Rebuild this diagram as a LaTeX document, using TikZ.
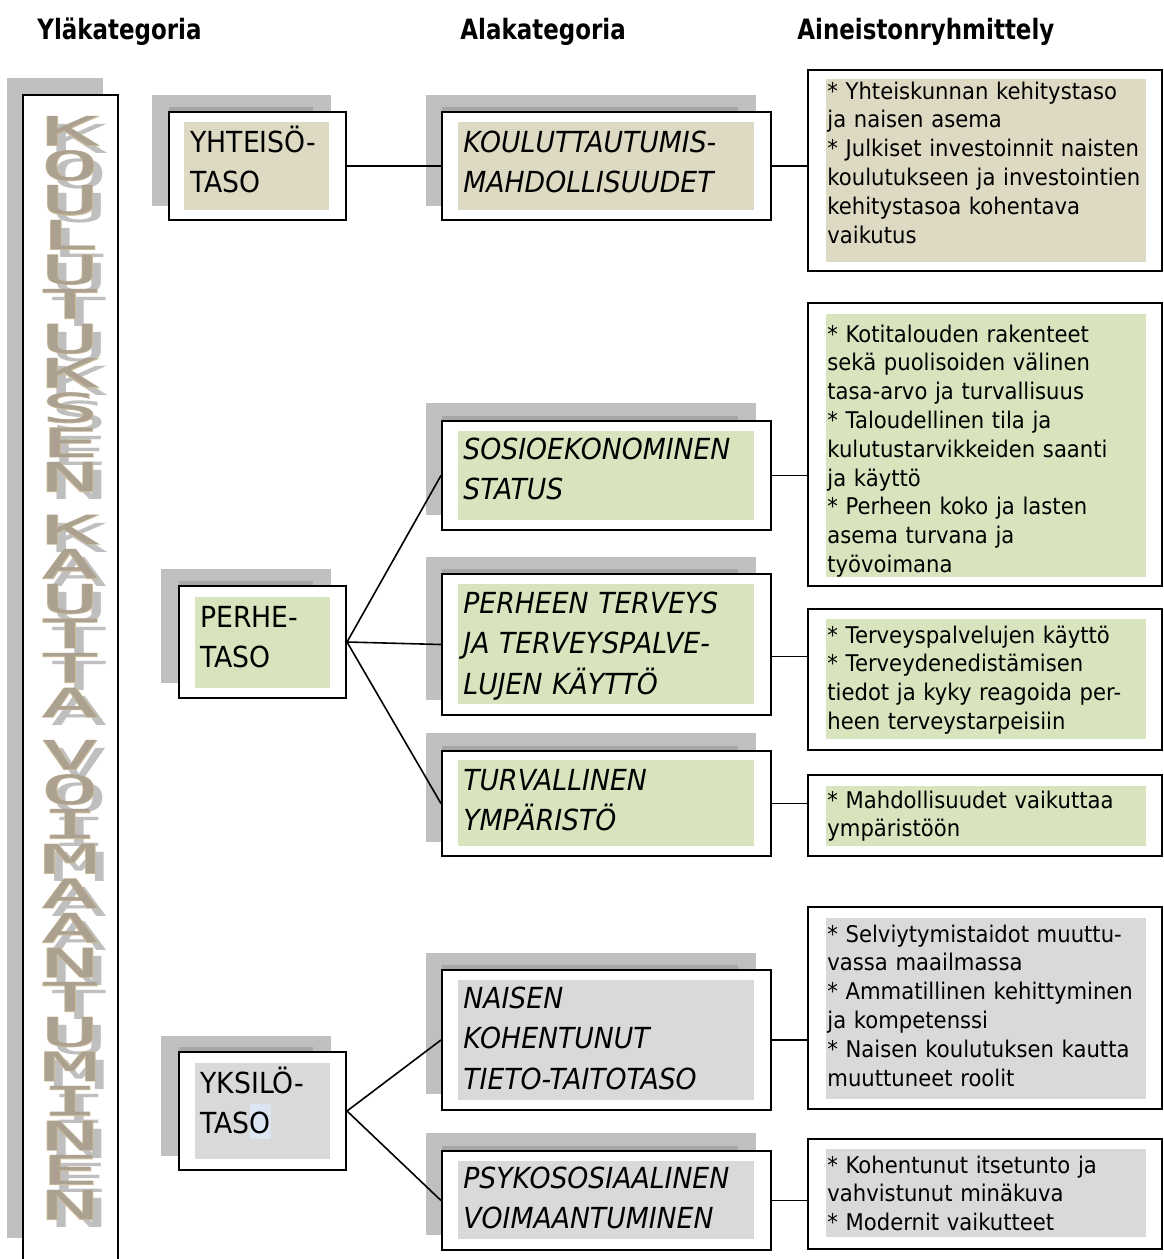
\documentclass[tikz,border=0pt]{standalone}
\usepackage{fontspec}
\setmainfont{DejaVu Sans}[FakeStretch=0.92, ItalicFont={DejaVu Sans Oblique}, BoldFont={DejaVu Sans Bold}]
\newfontfamily\headfont{DejaVu Sans Bold}[FakeStretch=0.82]
\newfontfamily\artfont{DejaVu Sans Mono}
\newfontfamily\artboldfont{DejaVu Sans Mono}[FakeBold=2]

\definecolor{shadelight}{RGB}{191,191,191}
\definecolor{shadedark}{RGB}{166,166,166}
\definecolor{tanfill}{RGB}{221,217,195}
\definecolor{greenfill}{RGB}{215,228,189}
\definecolor{grayfill}{RGB}{217,217,217}
\definecolor{markblue}{RGB}{220,230,242}
\definecolor{arttan}{RGB}{201,187,153}
\definecolor{artcore}{RGB}{172,160,144}

% one WordArt letter: shadow, tan rim, mottled core
\newcommand{\artglyph}[1]{%
  \makebox[0pt]{\hspace{9pt}\raisebox{-4pt}{\textcolor{shadelight}{\artfont\scalebox{2.4}[1]{#1}}}}%
  \makebox[0pt]{\textcolor{arttan}{\artboldfont\scalebox{2.4}[1]{#1}}}%
  \makebox[0pt]{\textcolor{artcore}{\artfont\scalebox{2.4}[1]{#1}}}}

\tikzset{
  boxshadow/.style={fill=shadelight},
  boxstrip/.style={fill=shadedark},
  framebox/.style={draw=black, line width=1pt, fill=white, inner sep=0pt},
  link/.style={line width=0.8pt},
  heading/.style={anchor=base west, inner sep=0pt, font=\headfont\fontsize{14}{16}\selectfont},
  toplbl/.style={anchor=base west, inner sep=0pt, text width=85pt, align=left, font=\fontsize{14.5}{20.25}\selectfont},
  midlbl/.style={anchor=base west, inner sep=0pt, text width=150pt, align=left, font=\itshape\fontsize{14.5}{20.25}\selectfont},
  itemlbl/.style={anchor=base west, inner sep=0pt, text width=165pt, align=left, font=\fontsize{11.5}{14.4}\selectfont},
  artch/.style={anchor=base, inner sep=0pt, font=\fontsize{20}{20}\selectfont},
}

\begin{document}
\begin{tikzpicture}[x=0.5pt, y=-0.5pt]
\useasboundingbox (0,0) rectangle (1163,1259);
\clip (0,0) rectangle (1163,1259);
\fill[white] (0,0) rectangle (1163,1259);

% Headings
\node[heading] (hyla) at (37,39) {Yläkategoria};
\node[heading] (hala) at (460,39) {Alakategoria};
\node[heading] (hain) at (797,39) {Aineistonryhmittely};

% Side column
\fill[boxshadow] (7,78) rectangle (103,1238);
\draw[line width=1pt, fill=white] (23,1270) -- (23,95) -- (118,95) -- (118,1270);

\foreach \ystart/\letters [count=\w] in {131/{K,O,U,L,U,T,U,K,S,E,N}, 529.6/{K,A,U,T,T,A}, 755/{V,O,I,M,A,A,N,T,U,M,I,N,E,N}} {
  \foreach \ch [count=\i from 0] in \letters {
    \node[artch] (art\w-\i) at (70,\ystart+14.6+\i*34.6) {\artglyph{\ch}};
  }
}

% Ylakategoriat
\fill[boxshadow] (152,95) rectangle (331,206);
\fill[boxstrip] (169,107) rectangle (313,112);
\node[framebox, minimum width=88.5pt, minimum height=54pt] (yhteiso) at (257.5,166) {};
\fill[tanfill] (184,122) rectangle (329,210);
\node[toplbl] (yhteisotxt) at (190,152) {YHTEISÖ-\\TASO};

\fill[boxshadow] (161,569) rectangle (331,683);
\fill[boxstrip] (179,581) rectangle (313,586);
\node[framebox, minimum width=83.5pt, minimum height=56pt] (perhe) at (262.5,642) {};
\fill[greenfill] (195,597) rectangle (330,688);
\node[toplbl] (perhetxt) at (200,627) {PERHE-\\TASO};

\fill[boxshadow] (161,1036) rectangle (331,1156);
\fill[boxstrip] (179,1047) rectangle (313,1052);
\node[framebox, minimum width=83.5pt, minimum height=59pt] (yksilo) at (262.5,1111) {};
\fill[grayfill] (195,1063) rectangle (330,1159);
\fill[markblue] (250,1104) rectangle (271,1139);
\node[toplbl] (yksilotxt) at (200,1093) {YKSILÖ-\\TASO};

% Alakategoriat
\fill[boxshadow] (426,95) rectangle (756,206);
\fill[boxstrip] (442,107) rectangle (738,112);
\node[framebox, minimum width=164.5pt, minimum height=54pt] (koulutus) at (606.5,166) {};
\fill[tanfill] (458,122) rectangle (754,210);
\node[midlbl] (koulutustxt) at (463,152) {KOULUTTAUTUMIS-\\MAHDOLLISUUDET};

\fill[boxshadow] (426,403) rectangle (756,515);
\fill[boxstrip] (442,416) rectangle (738,421);
\node[framebox, minimum width=164.5pt, minimum height=54.5pt] (sosio) at (606.5,475.5) {};
\fill[greenfill] (458,431) rectangle (754,520);
\node[midlbl] (sosiotxt) at (463,459) {SOSIOEKONOMINEN\\STATUS};

\fill[boxshadow] (426,557) rectangle (756,700);
\fill[boxstrip] (442,569) rectangle (738,574);
\node[framebox, minimum width=164.5pt, minimum height=70.5pt] (terveys) at (606.5,644.5) {};
\fill[greenfill] (458,584) rectangle (754,704);
\node[midlbl] (terveystxt) at (463,613) {PERHEEN TERVEYS\\JA TERVEYSPALVE-\\LUJEN KÄYTTÖ};

\fill[boxshadow] (426,733) rectangle (756,842);
\fill[boxstrip] (442,746) rectangle (738,751);
\node[framebox, minimum width=164.5pt, minimum height=52.5pt] (turva) at (606.5,803.5) {};
\fill[greenfill] (458,760) rectangle (754,846);
\node[midlbl] (turvatxt) at (463,790) {TURVALLINEN\\YMPÄRISTÖ};

\fill[boxshadow] (426,953) rectangle (756,1094);
\fill[boxstrip] (442,965) rectangle (738,970);
\node[framebox, minimum width=164.5pt, minimum height=70pt] (naisen) at (606.5,1040) {};
\fill[grayfill] (458,980) rectangle (754,1100);
\node[midlbl] (naisentxt) at (463,1008) {NAISEN\\KOHENTUNUT\\TIETO-TAITOTASO};

\fill[boxshadow] (426,1133) rectangle (756,1235);
\fill[boxstrip] (442,1146) rectangle (738,1151);
\node[framebox, minimum width=164.5pt, minimum height=49.5pt] (psyko) at (606.5,1200.5) {};
\fill[grayfill] (458,1161) rectangle (754,1239);
\node[midlbl] (psykotxt) at (463,1188) {PSYKOSOSIAALINEN\\VOIMAANTUMINEN};

% Aineistonryhmittely
\node[framebox, minimum width=177pt, minimum height=100.5pt] (aines1) at (985,170.5) {};
\fill[tanfill] (826,79) rectangle (1146,262);
\node[itemlbl] (aines1txt) at (827,99) {* Yhteiskunnan kehitystaso\\ja naisen asema\\{}* Julkiset investoinnit naisten\\koulutukseen ja investointien\\kehitystasoa kohentava\\vaikutus};

\node[framebox, minimum width=177pt, minimum height=141.5pt] (aines2) at (985,444.5) {};
\fill[greenfill] (826,314) rectangle (1146,577);
\node[itemlbl] (aines2txt) at (827,342) {* Kotitalouden rakenteet\\sekä puolisoiden välinen\\tasa-arvo ja turvallisuus\\{}* Taloudellinen tila ja\\kulutustarvikkeiden saanti\\ja käyttö\\{}* Perheen koko ja lasten\\asema turvana ja\\työvoimana};

\node[framebox, minimum width=177pt, minimum height=70.5pt] (aines3) at (985,679.5) {};
\fill[greenfill] (826,619) rectangle (1146,739);
\node[itemlbl] (aines3txt) at (827,643) {* Terveyspalvelujen käyttö\\{}* Terveydenedistämisen\\tiedot ja kyky reagoida per-\\heen terveystarpeisiin};

\node[framebox, minimum width=177pt, minimum height=40.5pt] (aines4) at (985,815.5) {};
\fill[greenfill] (826,786) rectangle (1146,846);
\node[itemlbl] (aines4txt) at (827,808) {* Mahdollisuudet vaikuttaa\\ympäristöön};

\node[framebox, minimum width=177pt, minimum height=101pt] (aines5) at (985,1008) {};
\fill[grayfill] (826,918) rectangle (1146,1099);
\node[itemlbl] (aines5txt) at (827,942) {* Selviytymistaidot muuttu-\\vassa maailmassa\\{}* Ammatillinen kehittyminen\\ja kompetenssi\\{}* Naisen koulutuksen kautta\\muuttuneet roolit};

\node[framebox, minimum width=177pt, minimum height=55pt] (aines6) at (985,1194) {};
\fill[grayfill] (826,1149) rectangle (1146,1237);
\node[itemlbl] (aines6txt) at (827,1173) {* Kohentunut itsetunto ja\\vahvistunut minäkuva\\{}* Modernit vaikutteet};

% Connectors
\draw[link] (yhteiso.east) -- (koulutus.west);
\draw[link] (perhe.east) -- (sosio.west);
\draw[link] (perhe.east) -- (terveys.west);
\draw[link] (perhe.east) -- (turva.west);
\draw[link] (yksilo.east) -- (naisen.west);
\draw[link] (yksilo.east) -- (psyko.west);

\draw[link] (koulutus.east) -- (koulutus.east -| aines1.west);
\draw[link] (sosio.east) -- (sosio.east -| aines2.west);
\draw[link] ([yshift=-6pt]terveys.east) -- ([yshift=-6pt]terveys.east -| aines3.west);
\draw[link] (turva.east) -- (turva.east -| aines4.west);
\draw[link] (naisen.east) -- (naisen.east -| aines5.west);
\draw[link] (psyko.east) -- (psyko.east -| aines6.west);
\end{tikzpicture}
\end{document}
